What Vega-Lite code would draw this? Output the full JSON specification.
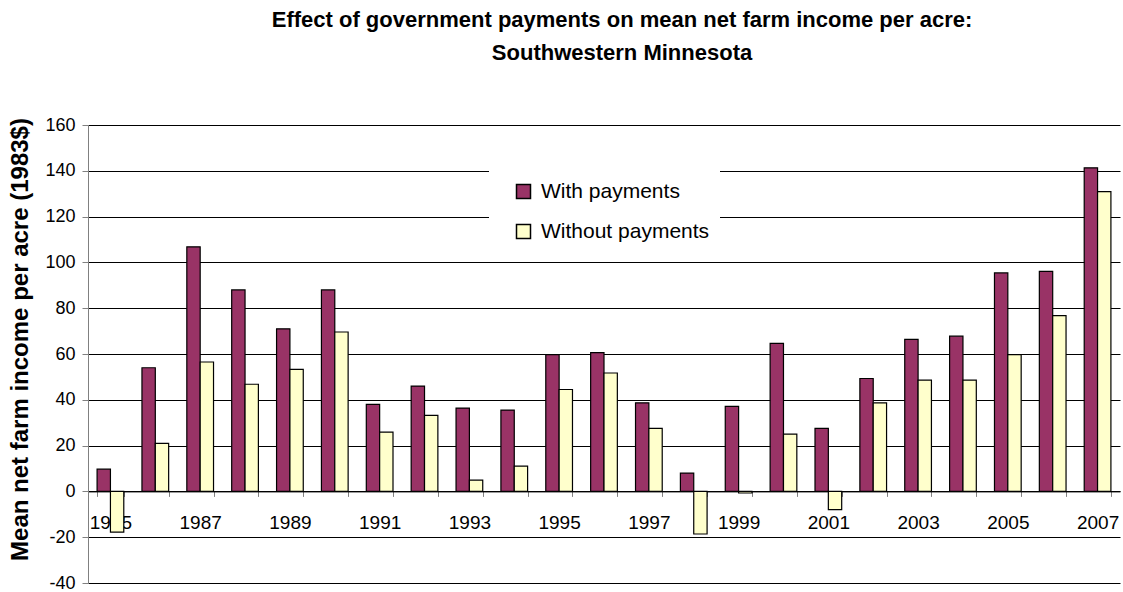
{
  "$schema": "https://vega.github.io/schema/vega-lite/v6.json",
  "width": 1032,
  "height": 458,
  "autosize": {"type": "none"},
  "padding": {"left": 88, "top": 125, "right": 3, "bottom": 9},
  "background": "white",
  "config": {
    "font": "Liberation Sans",
    "view": {"stroke": null}
  },
  "title": {
    "text": ["Effect of government payments on mean net farm income per acre:", "Southwestern Minnesota"],
    "font": "Liberation Sans",
    "fontSize": 22,
    "fontWeight": "bold",
    "color": "#000000",
    "lineHeight": 33,
    "anchor": "middle",
    "frame": "group",
    "dx": 18,
    "offset": 51
  },
  "data": {
    "values": [
      {"year": 1985, "series": "With payments", "value": 9.7},
      {"year": 1985, "series": "Without payments", "value": -17.8},
      {"year": 1986, "series": "With payments", "value": 54},
      {"year": 1986, "series": "Without payments", "value": 21},
      {"year": 1987, "series": "With payments", "value": 106.8},
      {"year": 1987, "series": "Without payments", "value": 56.5},
      {"year": 1988, "series": "With payments", "value": 88},
      {"year": 1988, "series": "Without payments", "value": 46.8},
      {"year": 1989, "series": "With payments", "value": 71},
      {"year": 1989, "series": "Without payments", "value": 53.3},
      {"year": 1990, "series": "With payments", "value": 88},
      {"year": 1990, "series": "Without payments", "value": 69.6},
      {"year": 1991, "series": "With payments", "value": 38},
      {"year": 1991, "series": "Without payments", "value": 25.9},
      {"year": 1992, "series": "With payments", "value": 46},
      {"year": 1992, "series": "Without payments", "value": 33.2},
      {"year": 1993, "series": "With payments", "value": 36.4},
      {"year": 1993, "series": "Without payments", "value": 4.9},
      {"year": 1994, "series": "With payments", "value": 35.5},
      {"year": 1994, "series": "Without payments", "value": 11},
      {"year": 1995, "series": "With payments", "value": 59.7},
      {"year": 1995, "series": "Without payments", "value": 44.5},
      {"year": 1996, "series": "With payments", "value": 60.6},
      {"year": 1996, "series": "Without payments", "value": 51.7},
      {"year": 1997, "series": "With payments", "value": 38.7},
      {"year": 1997, "series": "Without payments", "value": 27.5},
      {"year": 1998, "series": "With payments", "value": 8},
      {"year": 1998, "series": "Without payments", "value": -18.6},
      {"year": 1999, "series": "With payments", "value": 37.1},
      {"year": 1999, "series": "Without payments", "value": -0.7},
      {"year": 2000, "series": "With payments", "value": 64.6},
      {"year": 2000, "series": "Without payments", "value": 25},
      {"year": 2001, "series": "With payments", "value": 27.5},
      {"year": 2001, "series": "Without payments", "value": -8},
      {"year": 2002, "series": "With payments", "value": 49.3},
      {"year": 2002, "series": "Without payments", "value": 38.7},
      {"year": 2003, "series": "With payments", "value": 66.4},
      {"year": 2003, "series": "Without payments", "value": 48.6},
      {"year": 2004, "series": "With payments", "value": 67.8},
      {"year": 2004, "series": "Without payments", "value": 48.6},
      {"year": 2005, "series": "With payments", "value": 95.4},
      {"year": 2005, "series": "Without payments", "value": 59.7},
      {"year": 2006, "series": "With payments", "value": 96.1},
      {"year": 2006, "series": "Without payments", "value": 76.8},
      {"year": 2007, "series": "With payments", "value": 141.3},
      {"year": 2007, "series": "Without payments", "value": 130.9}
    ]
  },
  "mark": {"type": "bar", "stroke": "#000000", "strokeWidth": 1.2},
  "encoding": {
    "x": {
      "field": "year",
      "type": "ordinal",
      "scale": {"paddingInner": 0.405, "paddingOuter": 0.2025},
      "axis": {
        "title": null,
        "labelAngle": 0,
        "labelExpr": "datum.value % 2 == 1 ? datum.label : ''",
        "labelFont": "Liberation Sans",
        "labelFontSize": 19,
        "labelColor": "#000000",
        "labelPadding": 17,
        "tickBand": "extent",
        "tickSize": 5,
        "tickColor": "#808080",
        "domainColor": "#000000",
        "offset": -91.6,
        "grid": false
      }
    },
    "xOffset": {
      "field": "series",
      "type": "nominal",
      "scale": {"paddingInner": 0, "paddingOuter": 0}
    },
    "y": {
      "field": "value",
      "type": "quantitative",
      "scale": {"domain": [-40, 160], "nice": false, "zero": false},
      "axis": {
        "title": "Mean net farm income per acre (1983$)",
        "titleFont": "Liberation Sans",
        "titleFontSize": 24,
        "titleFontWeight": "bold",
        "titleColor": "#000000",
        "titlePadding": 12,
        "titleY": 214,
        "titleAlign": "center",
        "values": [-40, -20, 0, 20, 40, 60, 80, 100, 120, 140, 160],
        "labelExpr": "'' + datum.value",
        "labelFont": "Liberation Sans",
        "labelFontSize": 18,
        "labelColor": "#000000",
        "labelPadding": 7,
        "tickSize": 6,
        "tickColor": "#808080",
        "domainColor": "#808080",
        "grid": true,
        "gridColor": "#000000",
        "gridWidth": 1
      }
    },
    "color": {
      "field": "series",
      "type": "nominal",
      "scale": {"domain": ["With payments", "Without payments"], "range": ["#993366", "#FFFFCC"]},
      "legend": {
        "title": null,
        "orient": "none",
        "legendX": 401,
        "legendY": 46,
        "fillColor": "#FFFFFF",
        "padding": 10,
        "symbolOffset": 14,
        "symbolType": "square",
        "symbolSize": 196,
        "symbolStrokeColor": "#000000",
        "symbolStrokeWidth": 1.5,
        "labelFont": "Liberation Sans",
        "labelFontSize": 21,
        "labelColor": "#000000",
        "labelOffset": 7,
        "labelLimit": 400,
        "rowPadding": 18
      }
    }
  }
}
